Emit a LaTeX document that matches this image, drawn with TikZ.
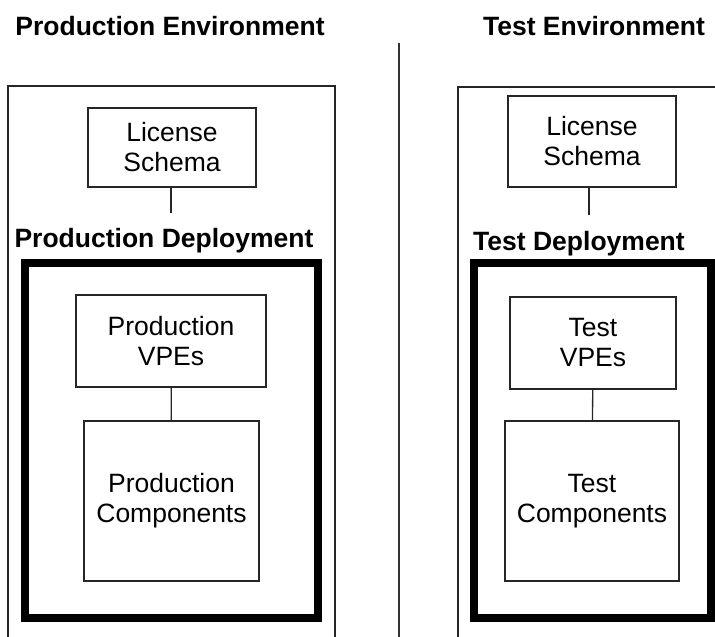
\documentclass[tikz,border=0pt]{standalone}
\usepackage{fontspec}
\setmainfont{Liberation Sans}
\begin{document}
\begin{tikzpicture}[x=1pt,y=-1pt,
  thinbox/.style={draw=black!85, line width=1.3pt, inner sep=0pt, align=center,
    font=\fontsize{26.5}{30}\selectfont},
  thickbox/.style={draw=black, line width=8pt, inner sep=0pt},
  envbox/.style={draw=black!85, line width=1.3pt, inner sep=0pt},
  title/.style={font=\fontsize{26.5}{30}\selectfont\bfseries, anchor=base, inner sep=0pt},
  link/.style={draw=black!85, line width=1.3pt}]
\useasboundingbox (0,0) rectangle (715,637);
\clip (0,0) rectangle (715,637);
% separator
\coordinate (sepT) at (399,43);
\coordinate (sepB) at (399,640);
\draw[line width=1.3pt, black!80] (sepT) -- (sepB);
% titles
\node[title] (penv) at (170,35) {Production Environment};
\node[title] (tenv) at (594,35) {Test Environment};
% environment boxes
\node[envbox, minimum width=327pt, minimum height=580pt] (penvbox) at (171.5,376) {};
\node[envbox, minimum width=300pt, minimum height=580pt] (tenvbox) at (608,377) {};
% license schemas
\node[thinbox, minimum width=168pt, minimum height=79pt] (plic) at (172,147.5) {License\\Schema};
\node[thinbox, minimum width=168pt, minimum height=91pt] (tlic) at (592,141.5) {License\\Schema};
\coordinate (plicE) at (171,213);
\coordinate (tlicE) at (589,215);
\draw[link] (plic.south -| plicE) -- (plicE);
\draw[link] (tlic.south -| tlicE) -- (tlicE);
% deployment titles
\node[title] (pdep) at (164,247) {Production Deployment};
\node[title] (tdep) at (579,250) {Test Deployment};
% thick deployment boxes
\node[thickbox, minimum width=293pt, minimum height=355pt] (pdbox) at (171.5,440.5) {};
\node[thickbox, minimum width=237pt, minimum height=355pt] (tdbox) at (592.5,440.5) {};
% VPEs
\node[thinbox, minimum width=190pt, minimum height=92pt] (pvpe) at (171,341) {Production\\VPEs};
\node[thinbox, minimum width=166pt, minimum height=92pt] (tvpe) at (593,343) {Test\\VPEs};
% components
\node[thinbox, minimum width=175pt, minimum height=160pt] (pcomp) at (171.5,501) {Production\\Components};
\node[thinbox, minimum width=174pt, minimum height=160pt] (tcomp) at (592,501) {Test\\Components};
\draw[link] (pvpe) -- (pcomp);
\draw[link] (tvpe) -- (tcomp);
\end{tikzpicture}
\end{document}
